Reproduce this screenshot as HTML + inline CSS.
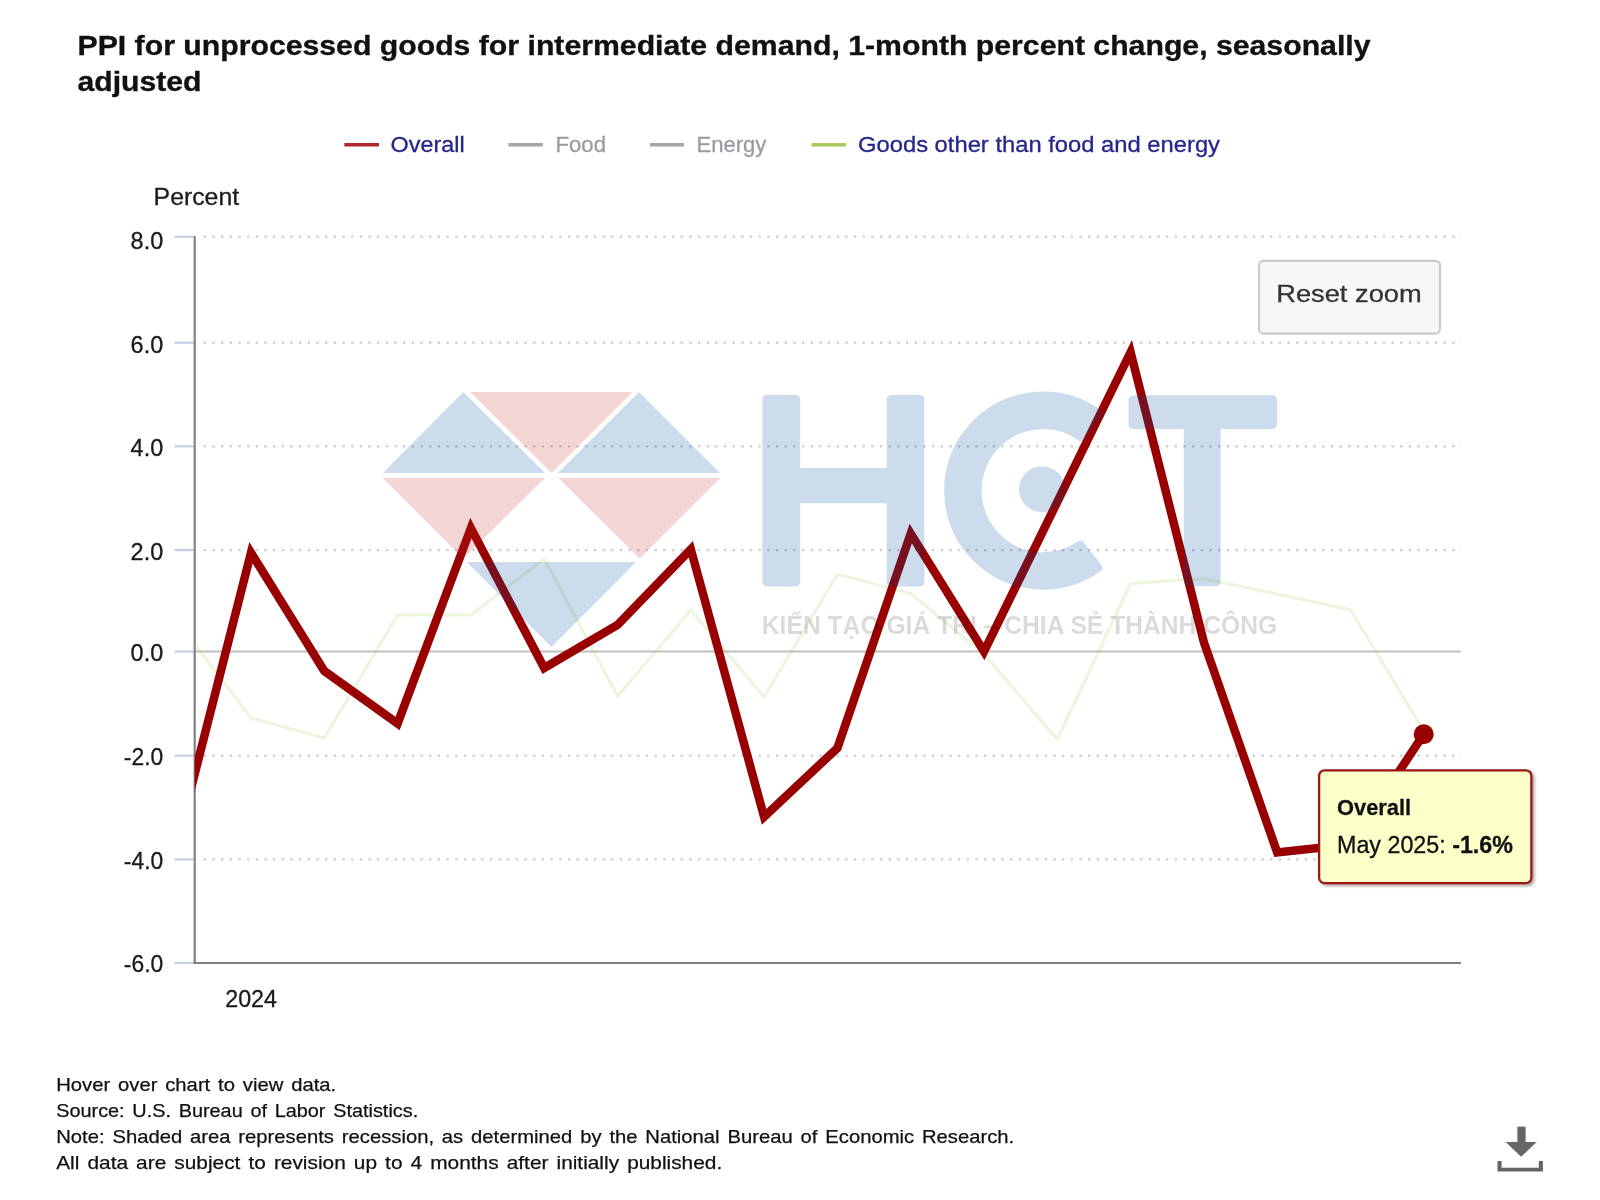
<!DOCTYPE html>
<html><head><meta charset="utf-8"><title>PPI chart</title>
<style>
html,body{margin:0;padding:0;background:#fff;}
body{width:1600px;height:1200px;overflow:hidden;position:relative;font-family:"Liberation Sans",sans-serif;}
svg{position:absolute;left:0;top:0;filter:blur(0.55px);}
text{font-family:"Liberation Sans",sans-serif;}
</style></head><body>
<svg width="1600" height="1200" viewBox="0 0 1600 1200">
<defs>
<clipPath id="plot"><rect x="194.7" y="225" width="1270.3" height="745"/></clipPath>
<filter id="sh" x="-10%" y="-10%" width="125%" height="130%"><feGaussianBlur in="SourceAlpha" stdDeviation="1.6"/><feOffset dx="2.2" dy="2.2"/><feComponentTransfer><feFuncA type="linear" slope="0.35"/></feComponentTransfer><feMerge><feMergeNode/><feMergeNode in="SourceGraphic"/></feMerge></filter>
</defs>

<!-- title -->
<text x="77.5" y="55" font-size="28" font-weight="bold" fill="#111" stroke="#111" stroke-width="0.35" textLength="1293" lengthAdjust="spacingAndGlyphs">PPI for unprocessed goods for intermediate demand, 1-month percent change, seasonally</text>
<text x="77.5" y="91.3" font-size="28" font-weight="bold" fill="#111" stroke="#111" stroke-width="0.35" textLength="124" lengthAdjust="spacingAndGlyphs">adjusted</text>

<!-- legend -->
<g font-size="22.6">
<line x1="344.4" x2="379" y1="144.8" y2="144.8" stroke="#b0282c" stroke-width="3.6"/>
<text x="390.6" y="152.4" fill="#25258c" textLength="74" lengthAdjust="spacingAndGlyphs" stroke="#25258c" stroke-width="0.3">Overall</text>
<line x1="508.3" x2="542.8" y1="144.8" y2="144.8" stroke="#a6a6a6" stroke-width="3.6"/>
<text x="555.5" y="152.4" fill="#9a9aa2" textLength="50.5" lengthAdjust="spacingAndGlyphs" stroke="#9a9aa2" stroke-width="0.3">Food</text>
<line x1="650" x2="684" y1="144.8" y2="144.8" stroke="#a6a6a6" stroke-width="3.6"/>
<text x="696.4" y="152.4" fill="#9a9aa2" textLength="70" lengthAdjust="spacingAndGlyphs" stroke="#9a9aa2" stroke-width="0.3">Energy</text>
<line x1="811.6" x2="846" y1="144.8" y2="144.8" stroke="#a9cb5e" stroke-width="3.6"/>
<text x="858" y="152.4" fill="#25258c" textLength="362" lengthAdjust="spacingAndGlyphs" stroke="#25258c" stroke-width="0.3">Goods other than food and energy</text>
</g>

<!-- y-axis title -->
<text x="153.6" y="205.2" font-size="23" fill="#1a1a1a" textLength="85.5" lengthAdjust="spacingAndGlyphs" stroke="#1a1a1a" stroke-width="0.3">Percent</text>
<line x1="203.7" x2="1461.0" y1="236.7" y2="236.7" stroke="#cbcbcb" stroke-width="2.2" stroke-dasharray="2.3 6.37" stroke-linecap="butt"/>
<line x1="203.7" x2="1461.0" y1="342.7" y2="342.7" stroke="#cbcbcb" stroke-width="2.2" stroke-dasharray="2.3 6.37" stroke-linecap="butt"/>
<line x1="203.7" x2="1461.0" y1="446.3" y2="446.3" stroke="#cbcbcb" stroke-width="2.2" stroke-dasharray="2.3 6.37" stroke-linecap="butt"/>
<line x1="203.7" x2="1461.0" y1="550.1" y2="550.1" stroke="#cbcbcb" stroke-width="2.2" stroke-dasharray="2.3 6.37" stroke-linecap="butt"/>
<line x1="203.7" x2="1461.0" y1="755.7" y2="755.7" stroke="#cbcbcb" stroke-width="2.2" stroke-dasharray="2.3 6.37" stroke-linecap="butt"/>
<line x1="203.7" x2="1461.0" y1="859.4" y2="859.4" stroke="#cbcbcb" stroke-width="2.2" stroke-dasharray="2.3 6.37" stroke-linecap="butt"/>
<line x1="194.7" x2="1461.0" y1="651.5" y2="651.5" stroke="#c0c0c0" stroke-width="2.2"/>
<line x1="174.6" x2="194.7" y1="236.7" y2="236.7" stroke="#c4cfe6" stroke-width="2.2"/>
<line x1="174.6" x2="194.7" y1="342.7" y2="342.7" stroke="#c4cfe6" stroke-width="2.2"/>
<line x1="174.6" x2="194.7" y1="446.3" y2="446.3" stroke="#c4cfe6" stroke-width="2.2"/>
<line x1="174.6" x2="194.7" y1="550.1" y2="550.1" stroke="#c4cfe6" stroke-width="2.2"/>
<line x1="174.6" x2="194.7" y1="651.5" y2="651.5" stroke="#c4cfe6" stroke-width="2.2"/>
<line x1="174.6" x2="194.7" y1="755.7" y2="755.7" stroke="#c4cfe6" stroke-width="2.2"/>
<line x1="174.6" x2="194.7" y1="859.4" y2="859.4" stroke="#c4cfe6" stroke-width="2.2"/>
<line x1="174.6" x2="194.7" y1="963.0" y2="963.0" stroke="#c4cfe6" stroke-width="2.2"/>
<line x1="194.7" x2="194.7" y1="236.2" y2="964.1" stroke="#808080" stroke-width="2.2"/>
<line x1="193.6" x2="1461.0" y1="963.0" y2="963.0" stroke="#808080" stroke-width="2.2"/>
<g font-size="24" fill="#1a1a1a" text-anchor="end" stroke="#1a1a1a" stroke-width="0.3">
<text x="163.2" y="248.5" textLength="32.6" lengthAdjust="spacingAndGlyphs">8.0</text>
<text x="163.2" y="353.0" textLength="32.6" lengthAdjust="spacingAndGlyphs">6.0</text>
<text x="163.2" y="455.6" textLength="32.6" lengthAdjust="spacingAndGlyphs">4.0</text>
<text x="163.2" y="559.7" textLength="32.6" lengthAdjust="spacingAndGlyphs">2.0</text>
<text x="163.2" y="660.6" textLength="32.6" lengthAdjust="spacingAndGlyphs">0.0</text>
<text x="163.2" y="764.8" textLength="39.4" lengthAdjust="spacingAndGlyphs">-2.0</text>
<text x="163.2" y="868.9" textLength="39.4" lengthAdjust="spacingAndGlyphs">-4.0</text>
<text x="163.2" y="972.3" textLength="39.4" lengthAdjust="spacingAndGlyphs">-6.0</text>
</g>
<text x="225.2" y="1007.2" font-size="23.8" fill="#1a1a1a" textLength="51.8" lengthAdjust="spacingAndGlyphs" stroke="#1a1a1a" stroke-width="0.3">2024</text>
<g clip-path="url(#plot)">
<polyline points="177.7,621.7 251.0,718.0 324.3,738.0 397.6,615.0 470.9,615.0 544.2,558.7 617.5,696.2 690.8,610.0 764.1,697.0 837.4,574.3 910.7,593.5 984.0,654.0 1057.3,739.6 1130.6,583.3 1203.9,578.6 1277.2,594.1 1350.5,609.6 1423.8,731.0" fill="none" stroke="#a9cb5e" stroke-opacity="0.2" stroke-width="3.2" stroke-linejoin="round"/>
<polyline points="177.7,840.8 251.0,552.8 324.3,671.0 397.6,723.5 470.9,528.1 544.2,668.0 617.5,625.0 690.8,549.2 764.1,816.8 837.4,748.0 910.7,533.6 984.0,651.5 1057.3,501.9 1130.6,352.2 1203.9,642.3 1277.2,852.5 1350.5,844.5 1423.8,734.2" fill="none" stroke="#990000" stroke-width="8.5" stroke-linejoin="miter" stroke-miterlimit="10"/>
</g>
<circle cx="1423.7" cy="734.2" r="10" fill="#990000"/>
<g opacity="0.2">
<g fill="#00509f">
<polygon points="463.3,392.1 382.8,472.9 545,472.9"/>
<polygon points="638.8,392.1 557.8,472.9 720,472.9"/>
<polygon points="466.8,562 636,562 551.5,647.1"/>
<rect x="762.4" y="395" width="37.7" height="191.6" rx="4.5"/>
<rect x="886.7" y="395" width="37.7" height="191.6" rx="4.5"/>
<rect x="790" y="468" width="110" height="35.2"/>
<path d="M1098.48,567.86 A95.00,95.00 0 1 1 1099.16,413.83 L1080.77,436.95 A65.50,65.50 0 1 0 1080.30,544.58 Z" stroke="#00509f" stroke-width="8.0" stroke-linejoin="round"/>
<circle cx="1042" cy="489.3" r="23"/>
<rect x="1128.5" y="395.2" width="148.5" height="33.8" rx="5"/>
<rect x="1183.8" y="400" width="36.8" height="186.3" rx="4.5"/>
</g>
<g fill="#c0302c">
<polygon points="470.3,392.1 632.5,392.1 551.5,472.9"/>
<polygon points="382.8,478 545,478 463.3,558.5"/>
<polygon points="558.5,478 720,478 639.5,558.5"/>
</g>
</g>
<text x="761.8" y="634.3" font-size="26.4" font-weight="bold" fill="#000" fill-opacity="0.145" textLength="515.4" lengthAdjust="spacingAndGlyphs">KIẾN TẠO GIÁ TRỊ – CHIA SẺ THÀNH CÔNG</text>

<!-- reset zoom button -->
<rect x="1259" y="260.8" width="181" height="72.8" rx="4.5" fill="#f7f7f7" stroke="#cccccc" stroke-width="2.2"/>
<text x="1276.2" y="301.6" font-size="24" fill="#333" textLength="145.5" lengthAdjust="spacingAndGlyphs" stroke="#333" stroke-width="0.3">Reset zoom</text>

<!-- tooltip -->
<g filter="url(#sh)"><rect x="1319.1" y="770.3" width="212.3" height="112.8" rx="5.5" fill="#fdffc8" stroke="#9b1416" stroke-width="2.3"/></g>
<text x="1337" y="814.6" font-size="22.6" font-weight="bold" fill="#111" textLength="74.2" lengthAdjust="spacingAndGlyphs" stroke="#111" stroke-width="0.3">Overall</text>
<text x="1337" y="853" font-size="23" fill="#111" textLength="176" lengthAdjust="spacingAndGlyphs" stroke="#111" stroke-width="0.3">May 2025: <tspan font-weight="bold">-1.6%</tspan></text>

<!-- footer -->
<g font-size="18.2" fill="#111" stroke="#111" stroke-width="0.25" word-spacing="2">
<text x="56.2" y="1091.2" textLength="280" lengthAdjust="spacingAndGlyphs">Hover over chart to view data.</text>
<text x="56.2" y="1117" textLength="362" lengthAdjust="spacingAndGlyphs">Source: U.S. Bureau of Labor Statistics.</text>
<text x="56.2" y="1142.8" textLength="958" lengthAdjust="spacingAndGlyphs">Note: Shaded area represents recession, as determined by the National Bureau of Economic Research.</text>
<text x="56.2" y="1168.7" textLength="666" lengthAdjust="spacingAndGlyphs">All data are subject to revision up to 4 months after initially published.</text>
</g>

<!-- download icon -->
<g fill="#666">
<rect x="1517.4" y="1126.6" width="8.2" height="16"/>
<polygon points="1505.6,1142 1536.6,1142 1521.1,1156.8"/>
<path d="M1497.5,1161 h4.1 v6.8 h37.2 v-6.8 h4.1 v10.6 h-45.4 z"/>
</g>
</svg>
</body></html>
